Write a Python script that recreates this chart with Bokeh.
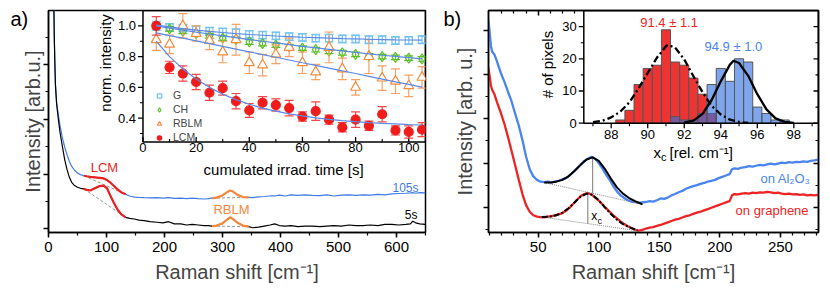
import numpy as np
from bokeh.plotting import figure
from bokeh.models import (Range1d, SingleIntervalTicker, FixedTicker, LinearAxis, Label,
                          Legend, LegendItem, CustomJSTickFormatter)
from bokeh.layouts import row
from bokeh.core.properties import value
from bokeh.embed import file_html
from bokeh.resources import INLINE

FONT = "Liberation Sans"

# ---------------- panel a : spectra (x, 5s, 105s) ----------------
A_ROWS = [
    (9, 4.10, 4.10), (9.5, 3.90, 3.90), (10, 3.50, 3.50), (11, 3.00, 3.00), (12, 2.62, 2.62),
    (14, 2.28, 2.30), (17, 2.00, 2.08), (20, 1.75, 1.88), (24, 1.50, 1.66), (28, 1.26, 1.49),
    (32, 1.08, 1.35), (36, 0.94, 1.23), (40, 0.85, 1.14), (45, 0.79, 1.07), (50, 0.76, 1.02),
    (55, 0.74, 0.99), (61, 0.73, 0.97), (66, 0.71, 0.96), (72, 0.70, 0.95), (80, 0.74, 0.94),
    (88, 0.78, 0.93), (95, 0.79, 0.92), (101, 0.74, 0.89), (106, 0.62, 0.85), (112, 0.49, 0.79),
    (118, 0.37, 0.73), (125, 0.27, 0.67), (133, 0.21, 0.63), (140, 0.19, 0.60), (148, 0.18, 0.58),
    (156, 0.16, 0.575), (165, 0.15, 0.57), (175, 0.13, 0.565), (187, 0.12, 0.57), (197, 0.11, 0.56),
    (207, 0.13, 0.57), (217, 0.09, 0.555), (228, 0.09, 0.56), (238, 0.07, 0.55), (248, 0.08, 0.56),
    (258, 0.07, 0.55), (268, 0.06, 0.545), (276, 0.06, 0.55), (282, 0.05, 0.56), (290, 0.06, 0.57),
    (300, 0.10, 0.61), (308, 0.17, 0.67), (313, 0.21, 0.70), (318, 0.18, 0.68), (326, 0.11, 0.62),
    (335, 0.06, 0.58), (345, 0.04, 0.575), (352, 0.02, 0.57), (362, 0.03, 0.585), (372, 0.05, 0.59),
    (382, 0.07, 0.60), (390, 0.09, 0.60), (398, 0.06, 0.615), (408, 0.05, 0.60), (418, 0.06, 0.62),
    (430, 0.04, 0.61), (442, 0.05, 0.62), (455, 0.05, 0.61), (468, 0.04, 0.605), (480, 0.05, 0.62),
    (492, 0.06, 0.60), (505, 0.05, 0.615), (518, 0.07, 0.62), (530, 0.06, 0.61), (542, 0.06, 0.62),
    (555, 0.07, 0.615), (568, 0.06, 0.63), (580, 0.08, 0.62), (592, 0.08, 0.64), (604, 0.07, 0.645),
    (616, 0.08, 0.65), (624, 0.09, 0.655), (628, 0.14, 0.66), (633, 0.11, 0.65), (640, 0.09, 0.66),
    (650, 0.08, 0.655),
]
a_x = np.array([r[0] for r in A_ROWS], dtype=float)
a_5s = np.array([r[1] for r in A_ROWS])
a_105s = np.array([r[2] for r in A_ROWS])
LCM_RANGE = (61, 133)
RBLM_RANGE = (282, 345)
# dashed baselines (x pair, y pair)
lcm_base_x = [61, 133]
lcm_base_5s = [0.73, 0.21]
lcm_base_105s = [0.97, 0.63]
rblm_base_x = [282, 345]
rblm_base_5s = [0.05, 0.04]
rblm_base_105s = [0.56, 0.575]

# ---------------- panel a inset : bleaching kinetics ----------------
t = [5, 10, 15, 20, 25, 30, 35, 40, 45, 50, 55, 60, 65, 70, 75, 80, 85, 90, 95, 100, 105]
G = [1.00, 0.99, 0.985, 0.975, 0.965, 0.96, 0.955, 0.945, 0.94, 0.935, 0.93, 0.925, 0.92, 0.92,
     0.915, 0.915, 0.91, 0.91, 0.905, 0.905, 0.91]
G_err = [0.03, 0.025, 0.025, 0.025, 0.025, 0.025, 0.025, 0.025, 0.025, 0.025, 0.025, 0.025, 0.025,
         0.025, 0.025, 0.025, 0.025, 0.025, 0.025, 0.025, 0.025]
CH = [1.00, 0.98, 0.965, 0.95, 0.935, 0.92, 0.91, 0.895, 0.885, 0.875, 0.865, 0.855, 0.845, 0.835,
      0.825, 0.815, 0.805, 0.80, 0.795, 0.79, 0.785]
CH_err = [0.015] * 21
RBLM = [0.91, 0.88, 1.00, 0.95, 0.905, 0.83, 0.91, 0.76, 0.745, 0.815, 0.86, 0.76, 0.70, 0.86,
        0.72, 0.60, 0.80, 0.66, 0.64, 0.61, 0.665]
RBLM_err = [0.07, 0.06, 0.08, 0.05, 0.06, 0.07, 0.10, 0.07, 0.07, 0.06, 0.06, 0.07, 0.05, 0.10,
            0.07, 0.05, 0.11, 0.08, 0.08, 0.07, 0.07]
LCM = [1.00, 0.73, 0.69, 0.635, 0.565, 0.595, 0.51, 0.45, 0.50, 0.485, 0.465, 0.41, 0.445, 0.39,
       0.34, 0.39, 0.35, 0.425, 0.32, 0.31, 0.325]
LCM_err = [0.06, 0.04, 0.05, 0.05, 0.05, 0.045, 0.05, 0.045, 0.04, 0.04, 0.05, 0.03, 0.06, 0.03,
           0.03, 0.05, 0.03, 0.05, 0.03, 0.04, 0.045]
G_fit = [1.005, 0.993, 0.982, 0.972, 0.964, 0.957, 0.950, 0.944, 0.939, 0.934, 0.930, 0.926, 0.923,
         0.920, 0.917, 0.915, 0.913, 0.911, 0.909, 0.908, 0.907]
CH_fit = [1.00, 0.985, 0.972, 0.959, 0.947, 0.935, 0.923, 0.911, 0.900, 0.889, 0.878, 0.867, 0.857,
          0.847, 0.837, 0.827, 0.818, 0.809, 0.801, 0.793, 0.785]
RBLM_fit = [0.955, 0.937, 0.920, 0.902, 0.884, 0.867, 0.849, 0.831, 0.813, 0.796, 0.778, 0.760, 0.743,
            0.725, 0.707, 0.690, 0.672, 0.654, 0.636, 0.619, 0.601]
LCM_fit = [0.90, 0.80, 0.72, 0.655, 0.60, 0.555, 0.52, 0.49, 0.465, 0.445, 0.428, 0.414, 0.402,
           0.392, 0.384, 0.377, 0.371, 0.366, 0.362, 0.358, 0.355]
INA_XT = [0, 20, 40, 60, 80, 100]
INA_XT_MINOR = [10, 30, 50, 70, 90]
INA_YT = [0.4, 0.6, 0.8, 1.0]
INA_YT_MINOR = [0.3, 0.5, 0.7, 0.9]
INA_YT_LABELS = ["0.4", "0.6", "0.8", "1.0"]

# ---------------- panel b : spectra (x, on Al2O3, on graphene) ----------------
B_ROWS = [
    (9, 5.22, 4.15), (10, 4.95, 3.95), (11, 4.65, 3.75), (12, 4.52, 3.66), (14, 4.45, 3.55),
    (16, 4.30, 3.38), (19, 4.05, 3.15), (22, 3.85, 2.90), (25, 3.62, 2.60), (28, 3.40, 2.28),
    (31, 3.12, 1.95), (34, 2.85, 1.62), (37, 2.52, 1.30), (40, 2.15, 1.05), (43, 1.86, 0.90),
    (46, 1.70, 0.82), (49, 1.62, 0.79), (52, 1.58, 0.78), (55, 1.57, 0.77), (58, 1.58, 0.79),
    (61, 1.56, 0.80), (64, 1.59, 0.82), (67, 1.60, 0.84), (70, 1.63, 0.87), (73, 1.66, 0.92),
    (76, 1.72, 0.99), (79, 1.80, 1.08), (82, 1.88, 1.17), (85, 1.96, 1.25), (88, 2.05, 1.30),
    (91, 2.10, 1.32), (94, 2.14, 1.29), (97, 2.10, 1.22), (100, 2.00, 1.15), (103, 1.88, 1.07),
    (106, 1.74, 0.98), (109, 1.62, 0.90), (112, 1.48, 0.82), (115, 1.36, 0.75), (118, 1.27, 0.68),
    (121, 1.21, 0.62), (124, 1.16, 0.57), (127, 1.13, 0.53), (130, 1.12, 0.49), (133, 1.10, 0.47),
    (136, 1.11, 0.49), (139, 1.12, 0.52), (142, 1.14, 0.54), (145, 1.13, 0.55), (148, 1.16, 0.58),
    (151, 1.20, 0.60), (154, 1.19, 0.63), (157, 1.22, 0.66), (160, 1.27, 0.69), (163, 1.30, 0.72),
    (166, 1.34, 0.74), (169, 1.37, 0.77), (172, 1.42, 0.80), (175, 1.45, 0.82), (178, 1.48, 0.85),
    (181, 1.50, 0.88), (184, 1.53, 0.90), (187, 1.55, 0.93), (190, 1.58, 0.96), (193, 1.60, 0.99),
    (196, 1.62, 1.02), (199, 1.66, 1.05), (202, 1.69, 1.08), (205, 1.72, 1.11), (208, 1.75, 1.14),
    (210, 1.86, 1.27), (212, 1.88, 1.30), (215, 1.87, 1.29), (218, 1.90, 1.31), (221, 1.91, 1.32),
    (224, 1.93, 1.31), (227, 1.92, 1.33), (230, 1.94, 1.32), (233, 1.96, 1.34), (236, 1.95, 1.33),
    (239, 1.97, 1.35), (242, 1.99, 1.34), (245, 1.97, 1.32), (248, 1.99, 1.33), (251, 2.01, 1.31),
    (254, 2.00, 1.30), (257, 2.02, 1.31), (260, 2.01, 1.29), (263, 2.03, 1.30), (266, 2.02, 1.28),
    (269, 2.04, 1.29), (272, 2.03, 1.27), (275, 2.05, 1.28), (278, 2.06, 1.27), (281, 2.08, 1.28),
]
b_x = [r[0] for r in B_ROWS]
b_al2o3 = [r[1] for r in B_ROWS]
b_graphene = [r[2] for r in B_ROWS]
fit_al_x = [55, 60, 65, 70, 75, 80, 85, 90, 95, 100, 105, 110, 115, 120, 125, 130, 136]
fit_al_y = [1.56, 1.56, 1.58, 1.62, 1.70, 1.82, 1.96, 2.08, 2.13, 2.05, 1.87, 1.65, 1.45, 1.31, 1.21,
            1.14, 1.07]
fit_gr_x = [53, 60, 65, 70, 75, 80, 85, 90, 95, 100, 105, 110, 115, 120, 125, 132]
fit_gr_y = [0.78, 0.79, 0.82, 0.88, 0.98, 1.11, 1.24, 1.31, 1.28, 1.16, 1.00, 0.85, 0.72, 0.62, 0.55,
            0.48]
base_al_x = [55, 137]
base_al_y = [1.56, 1.06]
base_gr_x = [53, 132]
base_gr_y = [0.78, 0.47]
xc_al = [95, 95]
xc_al_y = [2.13, 1.316]
xc_gr = [91, 91]
xc_gr_y = [1.31, 0.63]

# ---------------- panel b inset : histogram of peak positions ----------------
hist_red_x = [88.5, 89.0, 89.5, 90.0, 90.5, 91.0, 91.5, 92.0, 92.5, 93.0, 93.5]
hist_red_n = [1, 4, 12, 17, 18, 29, 19, 18, 14, 9, 3]
hist_blue_x = [91.5, 92.0, 92.5, 93.0, 93.5, 94.0, 94.5, 95.0, 95.5, 96.0, 96.5, 97.0, 97.5]
hist_blue_n = [2, 1, 1, 3, 12, 17, 13, 20, 19, 5, 3, 1, 1]
gauss_red_x = [87.0, 87.5, 88.0, 88.5, 89.0, 89.5, 90.0, 90.5, 91.0, 91.1, 91.5, 92.0, 92.5, 93.0,
               93.5, 94.0, 94.5, 95.0, 95.5]
gauss_red_y = [0.3, 0.7, 1.8, 3.6, 6.5, 10.8, 15.6, 20.3, 23.9, 24.3, 23.5, 19.8, 14.6, 9.6, 5.4,
               2.7, 1.1, 0.4, 0.1]
gauss_blue_x = [92.0, 92.5, 93.0, 93.5, 94.0, 94.5, 94.7, 95.0, 95.5, 96.0, 96.5, 97.0, 97.5, 98.0]
gauss_blue_y = [0.16, 0.8, 2.9, 7.2, 13.0, 18.2, 19.4, 18.7, 14.7, 9.0, 4.3, 1.5, 0.4, 0.1]
INB_XT = [88, 90, 92, 94, 96, 98]
INB_XT_MINOR = [87, 89, 91, 93, 95, 97, 99]
INB_YT = [0, 10, 20, 30]
INB_YT_MINOR = [5, 15, 25]

# ---------------- colours ----------------
BLUE_A = "#3f7be6"
RED = "#ee1f1f"
ORANGE = "#f5883a"
DASH_GREY = "#8c9c9c"
C_G, C_CH, C_RB, C_LCM = "#74c3f0", "#5cbf2a", "#f58a3c", "#f01c1c"
C_FIT = "#5b8ae6"
BLUE_B = "#4a84ef"
RED_B = "#ee2424"


def style_axis(ax, out=5, inn=0, mout=3, minn=0, labels=True):
    ax.axis_line_width = 1.5
    ax.major_tick_line_width = 1.5
    ax.minor_tick_line_width = 1.2
    ax.major_tick_out = out
    ax.major_tick_in = inn
    ax.minor_tick_out = mout
    ax.minor_tick_in = minn
    ax.major_label_text_font = FONT
    ax.major_label_text_font_size = "15px"
    ax.major_label_text_color = "black"
    ax.major_label_standoff = 4
    ax.axis_label_text_font = FONT
    ax.axis_label_text_font_size = "20px"
    ax.axis_label_text_font_style = "normal"
    ax.axis_label_standoff = 6
    if not labels:
        ax.formatter = CustomJSTickFormatter(code="return ''")
        ax.major_label_text_font_size = "0px"
        ax.major_label_standoff = 0
        ax.axis_label_standoff = 0


def txt(api, x, y, s, size, color="black", align="center", baseline="middle", angle=0,
        xo=0, yo=0):
    return api.text(x=x, y=y, text=s, text_font=value(FONT), text_font_size=size,
                    text_color=color, text_align=align, text_baseline=baseline, angle=angle,
                    x_offset=xo, y_offset=yo)


def panel_tag(fig, s, cx, cy):
    fig.add_layout(Label(x=cx, y=cy, x_units="canvas", y_units="canvas", text=s,
                         text_font=FONT, text_font_size="20px", text_color="black",
                         text_baseline="middle"), "left")


# =============================== panel a ===============================
pa = figure(width=427, height=288, x_range=Range1d(0, 650), y_range=Range1d(-0.067, 3.987),
            output_backend="svg", toolbar_location=None, min_border_left=48,
            min_border_right=2, min_border_top=9, min_border_bottom=56)
pa.grid.visible = False
pa.outline_line_color = "black"
pa.outline_line_width = 1.5
pa.xaxis.ticker = SingleIntervalTicker(interval=100, num_minor_ticks=2)
pa.yaxis.ticker = SingleIntervalTicker(interval=1, num_minor_ticks=2)
style_axis(pa.xaxis[0])
style_axis(pa.yaxis[0], labels=False)
pa.xaxis.axis_label = "Raman shift [cm\u207b\u00b9]"
pa.yaxis.axis_label = "Intensity [arb.u.]"

pa.line(a_x, a_105s, line_color=BLUE_A, line_width=1.2)
pa.line(a_x, a_5s, line_color="black", line_width=1.2)
pa.line(lcm_base_x, lcm_base_5s, line_color=DASH_GREY, line_dash="3 2", line_width=1)
pa.line(lcm_base_x, lcm_base_105s, line_color=DASH_GREY, line_dash="3 2", line_width=1)
pa.line(rblm_base_x, rblm_base_5s, line_color=DASH_GREY, line_dash="3 2", line_width=1)
pa.line(rblm_base_x, rblm_base_105s, line_color=DASH_GREY, line_dash="3 2", line_width=1)
m_l = (a_x >= LCM_RANGE[0]) & (a_x <= LCM_RANGE[1])
m_r = (a_x >= RBLM_RANGE[0]) & (a_x <= RBLM_RANGE[1])
pa.line(a_x[m_l], a_5s[m_l], line_color=RED, line_width=2.2)
pa.line(a_x[m_l], a_105s[m_l], line_color=RED, line_width=2.2)
pa.line(a_x[m_r], a_5s[m_r], line_color=ORANGE, line_width=2.2)
pa.line(a_x[m_r], a_105s[m_r], line_color=ORANGE, line_width=2.2)
txt(pa, [96.5], [1.12], ["LCM"], "13px", RED)
txt(pa, [315.5], [0.36], ["RBLM"], "13px", ORANGE)
txt(pa, [638], [0.75], ["105s"], "12px", BLUE_A, align="right")
txt(pa, [636], [0.25], ["5s"], "12px", "black", align="right")

# inset a
INA_X = (0, 106.3)
INA_Y = (0.245, 1.10)
ia = pa.subplot(x_source=Range1d(*INA_X), y_source=Range1d(*INA_Y),
                x_target=Range1d(162.9, 650), y_target=Range1d(1.587, 3.987))
PXA_X = 282.5 / (INA_X[1] - INA_X[0])
PXA_Y = 132.0 / (INA_Y[1] - INA_Y[0])
ia.quad(left=[INA_X[0]], right=[INA_X[1]], bottom=[INA_Y[0]], top=[INA_Y[1]],
        fill_color=None, line_color="black", line_width=1.5)
n = len(INA_YT)
ia.segment(x0=[INA_X[0]] * n, x1=[INA_X[0] - 5 / PXA_X] * n, y0=INA_YT, y1=INA_YT,
           line_color="black", line_width=1.3)
n = len(INA_YT_MINOR)
ia.segment(x0=[INA_X[0]] * n, x1=[INA_X[0] - 3 / PXA_X] * n, y0=INA_YT_MINOR, y1=INA_YT_MINOR,
           line_color="black", line_width=1.1)
n = len(INA_XT)
ia.segment(x0=INA_XT, x1=INA_XT, y0=[INA_Y[0]] * n, y1=[INA_Y[0] + 5 / PXA_Y] * n,
           line_color="black", line_width=1.3)
n = len(INA_XT_MINOR)
ia.segment(x0=INA_XT_MINOR, x1=INA_XT_MINOR, y0=[INA_Y[0]] * n, y1=[INA_Y[0] + 3 / PXA_Y] * n,
           line_color="black", line_width=1.1)
txt(ia, [INA_X[0]] * len(INA_YT), INA_YT, INA_YT_LABELS, "13px", align="right", xo=-7)
txt(ia, INA_XT, [INA_Y[0]] * len(INA_XT), [str(v) for v in INA_XT], "13px", yo=6)
txt(ia, [52.9], [0.068], ["cumulated irrad. time [s]"], "15px")
txt(ia, [-14.1], [0.759], ["norm. intensity"], "15px", angle=np.pi / 2)


def series(vals, errs, color, ecolor, marker, size, fill, lw=1.2):
    lo = [v - e for v, e in zip(vals, errs)]
    hi = [v + e for v, e in zip(vals, errs)]
    ia.segment(x0=t, x1=t, y0=lo, y1=hi, line_color=ecolor, line_width=1.2)
    ia.scatter(t, lo, marker="dash", size=9, line_color=ecolor, line_width=1.2)
    ia.scatter(t, hi, marker="dash", size=9, line_color=ecolor, line_width=1.2)
    return ia.scatter(t, vals, marker=marker, size=size, line_color=color, fill_color=fill,
                      line_width=lw)


r_g = series(G, G_err, C_G, C_G, "square", 7, None)
r_ch = series(CH, CH_err, C_CH, C_CH, "diamond", 10, None)
r_rb = series(RBLM, RBLM_err, C_RB, "#f7a064", "triangle", 10, "white")
r_lcm = series(LCM, LCM_err, C_LCM, "#f04848", "circle", 9, C_LCM)
for f in (G_fit, CH_fit, RBLM_fit, LCM_fit):
    ia.line(t, f, line_color=C_FIT, line_width=1.2)

leg = Legend(items=[LegendItem(label="G", renderers=[r_g]),
                    LegendItem(label="CH", renderers=[r_ch]),
                    LegendItem(label="RBLM", renderers=[r_rb]),
                    LegendItem(label="LCM", renderers=[r_lcm])],
             location=(105, 89), orientation="vertical", glyph_width=12, glyph_height=11,
             label_height=11, label_width=10, spacing=2, padding=0, margin=0,
             label_standoff=8, border_line_color=None, background_fill_alpha=0,
             label_text_font=FONT, label_text_font_size="10.5px")
pa.add_layout(leg)
panel_tag(pa, "a)", 10, 18)

# =============================== panel b ===============================
pb = figure(width=403, height=288, x_range=Range1d(9, 281.4), y_range=Range1d(0.430, 5.452),
            output_backend="svg", toolbar_location=None, min_border_left=61,
            min_border_right=12, min_border_top=10, min_border_bottom=56)
pb.grid.visible = False
pb.outline_line_color = "black"
pb.outline_line_width = 1.5
pb.xaxis.ticker = SingleIntervalTicker(interval=50, num_minor_ticks=5)
pb.yaxis.ticker = SingleIntervalTicker(interval=1, num_minor_ticks=2)
style_axis(pb.xaxis[0])
style_axis(pb.yaxis[0], labels=False)
pb.yaxis.axis_label_standoff = 8
pb.xaxis.axis_label = "Raman shift [cm\u207b\u00b9]"
pb.yaxis.axis_label = "Intensity [arb. u.]"
ax_r = LinearAxis(ticker=FixedTicker(ticks=[1, 2], minor_ticks=[0.5, 1.5, 2.5]))
style_axis(ax_r, out=0, inn=5, mout=0, minn=3, labels=False)
pb.add_layout(ax_r, "right")
ax_t = LinearAxis(ticker=FixedTicker(ticks=[50], minor_ticks=[20, 30, 40, 60, 70, 80]))
style_axis(ax_t, out=0, inn=5, mout=0, minn=3, labels=False)
pb.add_layout(ax_t, "above")

pb.line(b_x, b_al2o3, line_color=BLUE_B, line_width=2.3)
pb.line(b_x, b_graphene, line_color=RED_B, line_width=2.3)
pb.line(base_al_x, base_al_y, line_color="#888888", line_dash="1 1", line_width=1)
pb.line(base_gr_x, base_gr_y, line_color="#888888", line_dash="1 1", line_width=1)
pb.line(xc_al, xc_al_y, line_color="#777777", line_width=1)
pb.line(xc_gr, xc_gr_y, line_color="#777777", line_width=1)
pb.line(fit_al_x, fit_al_y, line_color="black", line_width=2)
pb.line(fit_gr_x, fit_gr_y, line_color="black", line_width=2, line_dash="6 2 2 2")
txt(pb, [274.8], [1.65], ["on Al\u2082O\u2083"], "13px", BLUE_B, align="right")
txt(pb, [273.2], [0.93], ["on graphene"], "13px", RED_B, align="right")
txt(pb, [93.8], [0.80], ["x"], "12px", align="left")
txt(pb, [99.0], [0.70], ["c"], "9px", align="left")

# inset b
INB_X = (86.5, 99.35)
INB_Y = (0, 35)
ib = pb.subplot(x_source=Range1d(*INB_X), y_source=Range1d(*INB_Y),
                x_target=Range1d(87.67, 281.4), y_target=Range1d(2.903, 5.452))
PXB_X = 234.7 / (INB_X[1] - INB_X[0])
PXB_Y = 112.7 / (INB_Y[1] - INB_Y[0])
ib.vbar(x=hist_red_x, width=0.5, top=hist_red_n, bottom=0, fill_color="#ee3333",
        line_color="#555555", line_width=1)
ib.vbar(x=hist_blue_x, width=0.5, top=hist_blue_n, bottom=0, fill_color="#3070e0",
        fill_alpha=0.62, line_color="#555555", line_width=1)
ib.line(gauss_red_x, gauss_red_y, line_color="black", line_width=2.3, line_dash="7 3 2 3")
ib.line(gauss_blue_x, gauss_blue_y, line_color="black", line_width=2.3)
ib.quad(left=[INB_X[0]], right=[INB_X[1]], bottom=[INB_Y[0]], top=[INB_Y[1]],
        fill_color=None, line_color="black", line_width=1.5)
n = len(INB_YT)
ib.segment(x0=[INB_X[0]] * n, x1=[INB_X[0] - 5 / PXB_X] * n, y0=INB_YT, y1=INB_YT,
           line_color="black", line_width=1.3)
ib.segment(x0=[INB_X[1]] * n, x1=[INB_X[1] - 5 / PXB_X] * n, y0=INB_YT, y1=INB_YT,
           line_color="black", line_width=1.3)
n = len(INB_YT_MINOR)
ib.segment(x0=[INB_X[0]] * n, x1=[INB_X[0] - 3 / PXB_X] * n, y0=INB_YT_MINOR, y1=INB_YT_MINOR,
           line_color="black", line_width=1.1)
ib.segment(x0=[INB_X[1]] * n, x1=[INB_X[1] - 3 / PXB_X] * n, y0=INB_YT_MINOR, y1=INB_YT_MINOR,
           line_color="black", line_width=1.1)
n = len(INB_XT)
ib.segment(x0=INB_XT, x1=INB_XT, y0=[INB_Y[0]] * n, y1=[INB_Y[0] - 5 / PXB_Y] * n,
           line_color="black", line_width=1.3)
n = len(INB_XT_MINOR)
ib.segment(x0=INB_XT_MINOR, x1=INB_XT_MINOR, y0=[INB_Y[0]] * n, y1=[INB_Y[0] - 3 / PXB_Y] * n,
           line_color="black", line_width=1.1)
txt(ib, [INB_X[0]] * len(INB_YT), INB_YT, [str(v) for v in INB_YT], "13px", align="right", xo=-7)
txt(ib, INB_XT, [INB_Y[0]] * len(INB_XT), [str(v) for v in INB_XT], "13px", baseline="top", yo=7)
txt(ib, [90.31], [-9.1], ["x"], "15px", align="left")
txt(ib, [90.72], [-10.4], ["c"], "11px", align="left")
txt(ib, [91.19], [-9.1], ["[rel. cm\u207b\u00b9]"], "15px", align="left")
txt(ib, [84.51], [18.2], ["# of pixels"], "15px", angle=np.pi / 2)
txt(ib, [91.17], [31.3], ["91.4 \u00b1 1.1"], "13px", RED_B)
txt(ib, [94.69], [23.8], ["94.9 \u00b1 1.0"], "13px", BLUE_B)
panel_tag(pb, "b)", 16, 18)

layout = row(pa, pb)
open("out.html", "w").write(file_html(layout, INLINE))
